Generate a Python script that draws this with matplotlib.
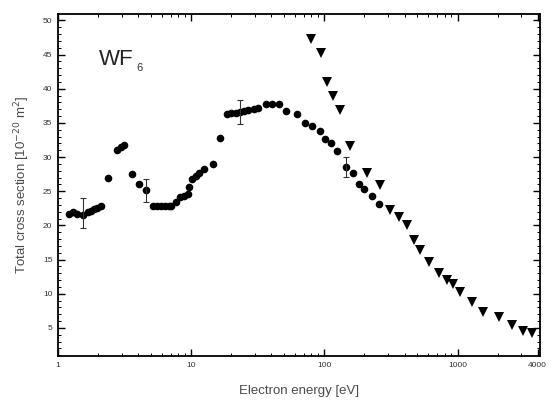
"""
Total electron scattering cross section of WF6 versus electron energy.
"""

import matplotlib.pyplot as plt
from matplotlib import ticker

# Circles: low/intermediate energy measurement
circle_energy = [
    1.22, 1.29, 1.40, 1.55, 1.67, 1.77, 1.87, 1.98, 2.10, 2.36,
    2.77, 2.97, 3.14, 3.59, 4.07, 4.57, 5.13, 5.53, 5.93, 6.35,
    6.8, 7.04, 7.68, 8.23, 8.87, 9.4, 9.67, 10.2, 10.8, 11.5,
    12.5, 14.5, 16.5, 18.5, 19.9, 21.6, 23.3, 25.0, 26.9, 29.4,
    31.5, 36.3, 40.8, 45.8, 51.4, 62.1, 71.5, 81.4, 92.5, 102,
    113, 125, 145, 164, 182, 199, 227, 257,
]
circle_sigma = [
    21.7, 21.9, 21.6, 21.5, 21.9, 22.1, 22.4, 22.6, 22.8, 26.9,
    31.1, 31.5, 31.7, 27.5, 26.0, 25.2, 22.8, 22.8, 22.8, 22.8,
    22.8, 22.9, 23.4, 24.2, 24.3, 24.6, 25.6, 26.8, 27.2, 27.6,
    28.3, 29.0, 32.8, 36.3, 36.4, 36.5, 36.6, 36.7, 36.9, 37.1,
    37.2, 37.8, 37.8, 37.8, 36.7, 36.3, 35.0, 34.5, 33.8, 32.6,
    32.0, 30.9, 28.6, 27.6, 26.1, 25.3, 24.3, 23.1,
]

# Representative error bars on the circle series
err_energy = [1.55, 4.57, 23.3, 145]
err_sigma = [21.8, 25.1, 36.6, 28.6]
err_size = [2.2, 1.65, 1.75, 1.45]

# Triangles: high energy measurement
tri_energy = [
    79, 94, 105, 116, 131, 156, 208, 262, 311, 363,
    415, 471, 522, 610, 725, 838, 930, 1042, 1290, 1560,
    2040, 2570, 3110, 3630,
]
tri_sigma = [
    47.3, 45.2, 41.0, 38.9, 36.9, 31.6, 27.7, 25.9, 22.2, 21.2,
    20.0, 17.8, 16.4, 14.6, 13.0, 12.0, 11.4, 10.3, 8.8, 7.3,
    6.6, 5.4, 4.6, 4.2,
]

x_ticks = [1, 10, 100, 1000, 4000]
x_tick_labels = ["1", "10", "100", "1000", "4000"]
y_ticks = [5, 10, 15, 20, 25, 30, 35, 40, 45, 50]

plt.rcParams["font.family"] = ["Liberation Sans", "DejaVu Sans"]
label_color = "#4a4a4a"

fig = plt.figure(figsize=(5.52, 4.05), dpi=100)
ax = fig.add_axes([0.105, 0.121, 0.873, 0.844])

ax.plot(circle_energy, circle_sigma, "o", color="black", markersize=5.5, markeredgewidth=0)
ax.errorbar(
    err_energy, err_sigma, yerr=err_size, fmt="none",
    ecolor="#333333", elinewidth=0.8, capsize=2.5, capthick=0.8,
)
ax.plot(tri_energy, tri_sigma, "v", color="black", markersize=6.5, markeredgewidth=0)

ax.set_xscale("log")
ax.set_xlim(1, 4150)
ax.set_ylim(0.9, 50.9)

ax.set_xticks(x_ticks)
ax.set_xticklabels(x_tick_labels)
ax.xaxis.set_minor_locator(ticker.LogLocator(base=10, subs="auto", numticks=99))
ax.xaxis.set_minor_formatter(ticker.NullFormatter())
ax.set_yticks(y_ticks)
ax.yaxis.set_minor_locator(ticker.MultipleLocator(1))

ax.tick_params(which="major", direction="in", length=5, width=1.0,
               top=True, right=True, labelsize=6, labelcolor="#333333", pad=4)
ax.tick_params(which="minor", direction="in", length=2.5, width=0.7, top=True, right=True)
for spine in ax.spines.values():
    spine.set_linewidth(1.3)

ax.set_xlabel("Electron energy [eV]", fontsize=9.5, color=label_color, labelpad=12)
ax.set_ylabel(r"Total cross section [10$^{-20}$ m$^{2}$]", fontsize=9.5, color=label_color, labelpad=8)

# Molecule label with a small, well-lowered subscript
ax.text(0.085, 0.85, "WF", transform=ax.transAxes, fontsize=16, color="#222222")
ax.text(0.163, 0.835, "6", transform=ax.transAxes, fontsize=8, color="#333333")

fig.savefig("out.png", dpi=100)
